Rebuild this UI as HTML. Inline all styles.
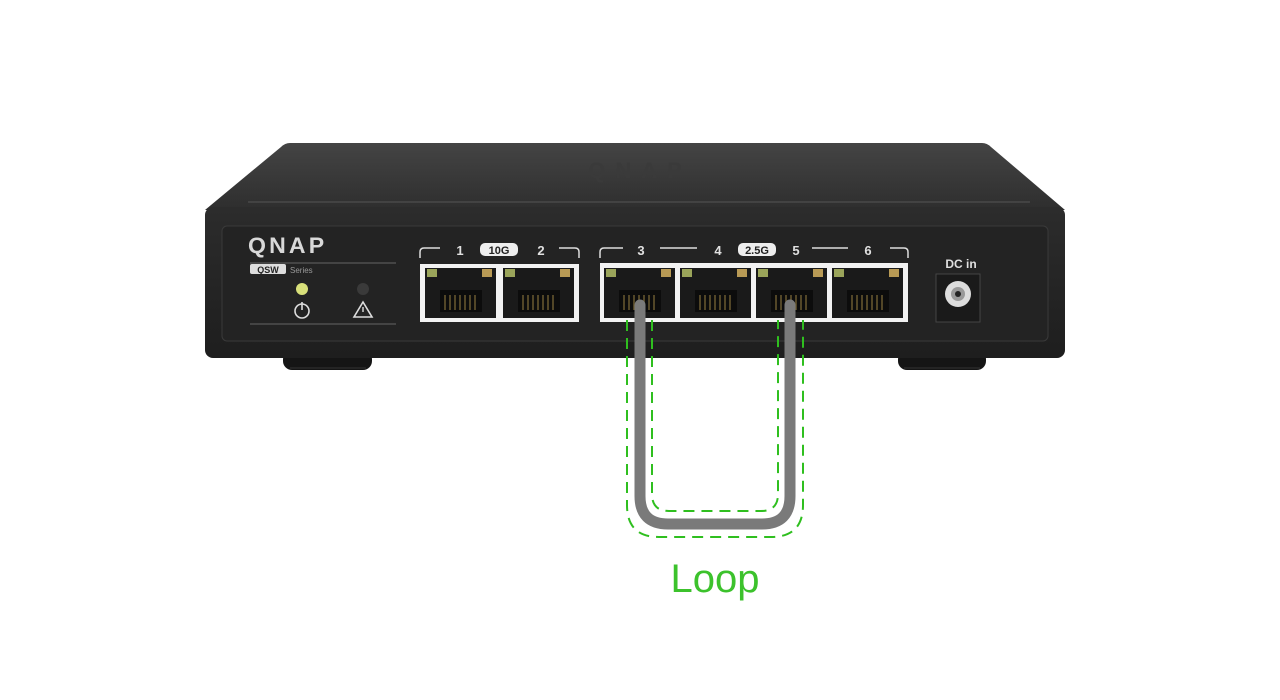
<!DOCTYPE html>
<html><head><meta charset="utf-8"><style>
html,body{margin:0;padding:0;background:#fff;}
svg{display:block;}
</style></head><body>
<svg width="1280" height="700" viewBox="0 0 1280 700" xmlns="http://www.w3.org/2000/svg" font-family="Liberation Sans, sans-serif">
<defs>
<linearGradient id="top" x1="0" y1="0" x2="0" y2="1"><stop offset="0" stop-color="#444"/><stop offset="1" stop-color="#2e2e2e"/></linearGradient>
<linearGradient id="front" x1="0" y1="0" x2="0" y2="1"><stop offset="0" stop-color="#2c2c2c"/><stop offset="1" stop-color="#1e1e1e"/></linearGradient>
</defs>
<!-- feet -->
<rect x="283" y="350" width="89" height="20" rx="9" fill="#151515"/>
<rect x="898" y="350" width="88" height="20" rx="9" fill="#151515"/>
<line x1="290" y1="368" x2="366" y2="368" stroke="#333" stroke-width="1"/>
<line x1="904" y1="368" x2="980" y2="368" stroke="#333" stroke-width="1"/>
<!-- top -->
<path d="M290,143 H982 Q987,143 991,147 L1065,210 H205 L281,147 Q285,143 290,143 Z" fill="url(#top)"/>
<line x1="248" y1="202" x2="1030" y2="202" stroke="#555" stroke-width="1"/>
<text x="640" y="178" text-anchor="middle" font-size="22" font-weight="bold" fill="#3a3a3a" letter-spacing="10">QNAP</text>
<!-- front -->
<rect x="205" y="207" width="860" height="151" rx="8" fill="url(#front)"/>
<rect x="222" y="226" width="826" height="115" rx="5" fill="#232323" stroke="#3a3a3a" stroke-width="1"/>
<!-- logo -->
<text x="248" y="253" font-size="22" font-weight="bold" fill="#d8d8d8" letter-spacing="3" transform="translate(248 0) scale(1.05 1) translate(-248 0)">QNAP</text>
<line x1="250" y1="263" x2="396" y2="263" stroke="#666" stroke-width="1"/>
<rect x="250" y="264" width="36" height="10" rx="2" fill="#ddd"/>
<text x="268" y="273" text-anchor="middle" font-size="9" font-weight="bold" fill="#222">QSW</text>
<text x="290" y="273" font-size="8" fill="#999">Series</text>
<circle cx="302" cy="289" r="6" fill="#d8e07a"/>
<circle cx="363" cy="289" r="6" fill="#3a3a3a"/>
<circle cx="302" cy="311" r="7" fill="none" stroke="#ddd" stroke-width="1.6"/>
<line x1="302" y1="302" x2="302" y2="310" stroke="#ddd" stroke-width="1.6"/>
<polygon points="363,302 372,317 354,317" fill="none" stroke="#ddd" stroke-width="1.6"/>
<line x1="363" y1="307" x2="363" y2="312" stroke="#ddd" stroke-width="1.4"/>
<line x1="250" y1="324" x2="396" y2="324" stroke="#666" stroke-width="1"/>
<g stroke="#ddd" stroke-width="1.5" fill="none">
<path d="M420,258 V252 Q420,248 424,248 H440"/>
<path d="M579,258 V252 Q579,248 575,248 H559"/>
<path d="M600,258 V252 Q600,248 604,248 H623"/>
<line x1="660" y1="248" x2="697" y2="248"/>
<line x1="812" y1="248" x2="848" y2="248"/>
<path d="M908,258 V252 Q908,248 904,248 H890"/>
</g>
<g font-size="13" font-weight="bold" fill="#e0e0e0" text-anchor="middle">
<text x="460" y="255">1</text><text x="541" y="255">2</text>
<text x="641" y="255">3</text><text x="718" y="255">4</text>
<text x="796" y="255">5</text><text x="868" y="255">6</text>
<text x="961" y="268" font-size="12">DC in</text>
</g>
<rect x="480" y="243" width="38" height="13" rx="5" fill="#eee"/>
<text x="499" y="254" text-anchor="middle" font-size="11" font-weight="bold" fill="#222">10G</text>
<rect x="738" y="243" width="38" height="13" rx="5" fill="#eee"/>
<text x="757" y="254" text-anchor="middle" font-size="11" font-weight="bold" fill="#222">2.5G</text>
<rect x="420" y="264" width="159" height="58" fill="#f2f2f2"/>
<rect x="600" y="263" width="308" height="59" fill="#f2f2f2"/>
<g fill="#1a1a1a">
<rect x="425" y="268" width="71" height="50"/>
<rect x="503" y="268" width="71" height="50"/>
<rect x="604" y="268" width="71" height="50"/><rect x="680" y="268" width="71" height="50"/>
<rect x="756" y="268" width="71" height="50"/><rect x="832" y="268" width="71" height="50"/>
</g>
<g fill="#9aa45a">
<rect x="427" y="269" width="10" height="8"/><rect x="505" y="269" width="10" height="8"/><rect x="606" y="269" width="10" height="8"/><rect x="682" y="269" width="10" height="8"/><rect x="758" y="269" width="10" height="8"/><rect x="834" y="269" width="10" height="8"/>
</g>
<g fill="#b89a55">
<rect x="482" y="269" width="10" height="8"/><rect x="560" y="269" width="10" height="8"/><rect x="661" y="269" width="10" height="8"/><rect x="737" y="269" width="10" height="8"/><rect x="813" y="269" width="10" height="8"/><rect x="889" y="269" width="10" height="8"/>
</g>
<g fill="#0c0c0c">
<rect x="440" y="290" width="42" height="22"/><rect x="518" y="290" width="42" height="22"/><rect x="619" y="290" width="42" height="22"/><rect x="695" y="290" width="42" height="22"/><rect x="771" y="290" width="42" height="22"/><rect x="847" y="290" width="42" height="22"/>
</g>
<g stroke="#6a5a30" stroke-width="1.5">
<path d="M445,295v15M450,295v15M455,295v15M460,295v15M465,295v15M470,295v15M475,295v15"/>
<path d="M523,295v15M528,295v15M533,295v15M538,295v15M543,295v15M548,295v15M553,295v15"/>
<path d="M624,295v15M629,295v15M634,295v15M639,295v15M644,295v15M649,295v15M654,295v15"/>
<path d="M700,295v15M705,295v15M710,295v15M715,295v15M720,295v15M725,295v15M730,295v15"/>
<path d="M776,295v15M781,295v15M786,295v15M791,295v15M796,295v15M801,295v15M806,295v15"/>
<path d="M852,295v15M857,295v15M862,295v15M867,295v15M872,295v15M877,295v15M882,295v15"/>
</g>
<rect x="936" y="274" width="44" height="48" fill="#1a1a1a" stroke="#444"/>
<circle cx="958" cy="294" r="13" fill="#ddd"/>
<circle cx="958" cy="294" r="7" fill="#999"/>
<circle cx="958" cy="294" r="3" fill="#222"/>
<path d="M640,305 V496 Q640,524 668,524 H762 Q790,524 790,496 V305" fill="none" stroke="#7a7a7a" stroke-width="11" stroke-linecap="round"/>
<g fill="none" stroke="#2fbf1f" stroke-width="2" stroke-dasharray="11,7">
<path d="M627,320 V505 Q627,537 659,537 H771 Q803,537 803,505 V320"/>
<path d="M652,320 V494 Q652,511 669,511 H761 Q778,511 778,494 V320"/>
</g>
<text x="715" y="592" text-anchor="middle" font-size="40" fill="#3cc22c">Loop</text>
</svg>
</body></html>
